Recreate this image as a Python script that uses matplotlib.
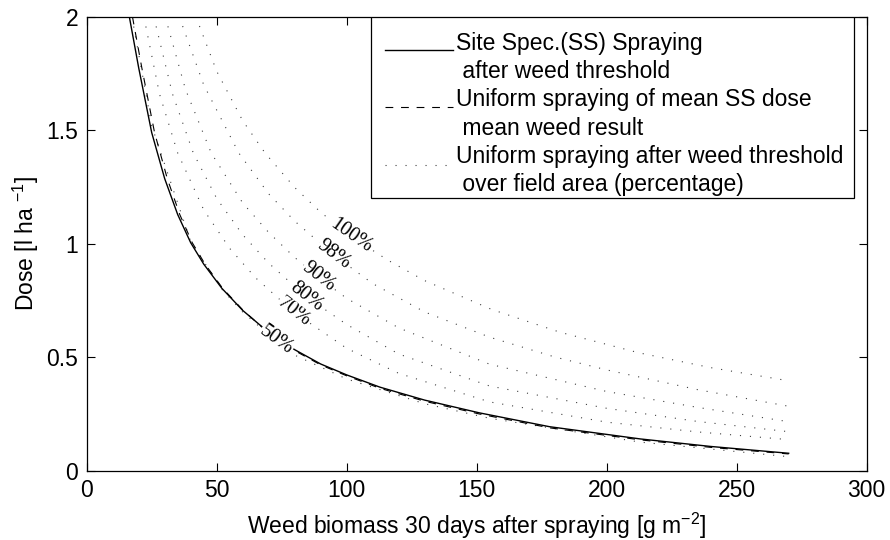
import numpy as np
import matplotlib
matplotlib.use('Agg')
import matplotlib.pyplot as plt
from matplotlib.patches import Rectangle

plt.rcParams['font.family'] = ['Liberation Sans', 'DejaVu Sans']
plt.rcParams['mathtext.fontset'] = 'custom'
plt.rcParams['mathtext.rm'] = 'Liberation Sans'
plt.rcParams['mathtext.it'] = 'Liberation Sans:italic'

# site specific spraying after weed threshold
ss_x = [16.4, 20, 25, 30, 35, 40, 45, 52, 60, 70, 80, 90, 100, 112.8, 130, 151, 178, 213, 240, 270]
ss_y = [2.0, 1.775, 1.49, 1.287, 1.129, 1.005, 0.911, 0.804, 0.707, 0.61, 0.534, 0.471, 0.423,
        0.369, 0.312, 0.256, 0.195, 0.141, 0.108, 0.078]

# uniform spraying of mean SS dose
mean_x = [17.6, 21.2, 26.1, 31, 35.8, 40.6, 45.5, 52.3, 60.2, 70, 80, 90, 100, 112.8, 130, 151, 178, 213, 240, 270]
mean_y = [2.0, 1.775, 1.49, 1.287, 1.129, 1.005, 0.911, 0.804, 0.707, 0.607, 0.530, 0.467, 0.419,
          0.364, 0.307, 0.251, 0.19, 0.137, 0.104, 0.075]

# uniform spraying after weed threshold over field area
p50_x = [17.4, 25, 40, 52, 60, 70, 80, 100, 130, 155, 213, 270]
p50_y = [2.0, 1.52, 1.01, 0.80, 0.70, 0.60, 0.51, 0.405, 0.296, 0.232, 0.127, 0.063]
p70_x = [22, 28, 35, 45, 55, 65, 79.7, 100, 120, 155, 200, 235, 270]
p70_y = [2.0, 1.66, 1.40, 1.15, 0.98, 0.85, 0.699, 0.54, 0.43, 0.304, 0.215, 0.172, 0.138]
p80_x = [25.8, 33, 41, 50, 60, 70, 84.4, 100, 120, 155, 200, 235, 270]
p80_y = [2.0, 1.66, 1.40, 1.20, 1.04, 0.915, 0.768, 0.645, 0.515, 0.374, 0.276, 0.218, 0.173]
p90_x = [30.2, 38, 47.9, 60, 70, 80, 89.1, 100, 120, 155, 200, 235, 270]
p90_y = [2.0, 1.68, 1.40, 1.18, 1.05, 0.94, 0.853, 0.76, 0.63, 0.47, 0.35, 0.28, 0.217]
p98_x = [35.6, 45, 58.5, 70, 80, 94.9, 110, 130, 155, 180, 200, 235, 270]
p98_y = [2.0, 1.70, 1.40, 1.22, 1.10, 0.952, 0.825, 0.70, 0.589, 0.502, 0.445, 0.358, 0.285]
p100_x = [42, 50, 60, 68.6, 80, 90, 101.5, 116, 130, 155.8, 182, 212.5, 240, 270]
p100_y = [2.0, 1.76, 1.542, 1.40, 1.248, 1.139, 1.034, 0.927, 0.838, 0.711, 0.611, 0.52, 0.455, 0.397]

pct_names = ['50%', '70%', '80%', '90%', '98%', '100%']
pct_curves = [(p50_x, p50_y), (p70_x, p70_y), (p80_x, p80_y),
              (p90_x, p90_y), (p98_x, p98_y), (p100_x, p100_y)]
label_at = [72.8, 79.7, 84.4, 89.1, 94.9, 101.5]
label_rot = [-36, -38, -38, -38, -37, -35]

fig = plt.figure(figsize=(8.9, 5.4), dpi=100)
ax = fig.add_axes([0.0974, 0.1278, 0.8764, 0.8413])

dot_style = (0, (1, 8))
for cx, cy in pct_curves:
    ax.plot(cx, cy, color='0.25', lw=0.8, linestyle=dot_style, zorder=2)
ax.plot(mean_x, mean_y, color='k', lw=0.8, linestyle=(0, (7, 7)), zorder=3)
ax.plot(ss_x, ss_y, color='k', lw=1.0, zorder=3)

for name, (cx, cy), lx, rot in zip(pct_names, pct_curves, label_at, label_rot):
    ly = np.interp(lx, cx, cy)
    ax.text(lx, ly, name, family='Liberation Serif', fontsize=14.5, rotation=rot,
            ha='center', va='center', rotation_mode='anchor', zorder=5,
            bbox=dict(facecolor='white', edgecolor='none', pad=0.5))

ax.set_xlim(0, 300)
ax.set_ylim(0, 2)
ax.set_xticks(np.arange(0, 301, 50))
ax.set_yticks([0, 0.5, 1, 1.5, 2])
ax.set_yticklabels(['0', '0.5', '1', '1.5', '2'])
ax.tick_params(direction='in', length=6, width=0.8, top=True, right=True,
               labelsize=16.5, pad=6)
for s in ax.spines.values():
    s.set_linewidth(0.9)

ax.set_xlabel('Weed biomass 30 days after spraying [g m$^{-2}$]', fontsize=16.5, labelpad=6)
ax.set_ylabel('Dose [l ha $^{-1}$]', fontsize=16.5, labelpad=4)

# legend box drawn by hand so the two-line entries keep their layout
ax.add_patch(Rectangle((0.365, 0.601), 0.619, 0.399, transform=ax.transAxes,
                       facecolor='white', edgecolor='k', lw=0.9, zorder=6))
ax.plot([0.382, 0.470], [0.927, 0.927], transform=ax.transAxes, color='k', lw=1.0, zorder=7)
ax.plot([0.382, 0.470], [0.802, 0.802], transform=ax.transAxes, color='k', lw=0.8,
        linestyle=(0, (7, 7)), zorder=7)
ax.plot([0.382, 0.470], [0.674, 0.674], transform=ax.transAxes, color='0.25', lw=0.8,
        linestyle=dot_style, zorder=7)
legend_lines = ['Site Spec.(SS) Spraying', ' after weed threshold',
                'Uniform spraying of mean SS dose', ' mean weed result',
                'Uniform spraying after weed threshold', ' over field area (percentage)']
legend_y = [0.941, 0.879, 0.817, 0.754, 0.692, 0.630]
for txt, ty in zip(legend_lines, legend_y):
    ax.text(0.474, ty, txt, transform=ax.transAxes, fontsize=16.5, ha='left', va='center', zorder=8)

fig.savefig('out.png', dpi=100)
